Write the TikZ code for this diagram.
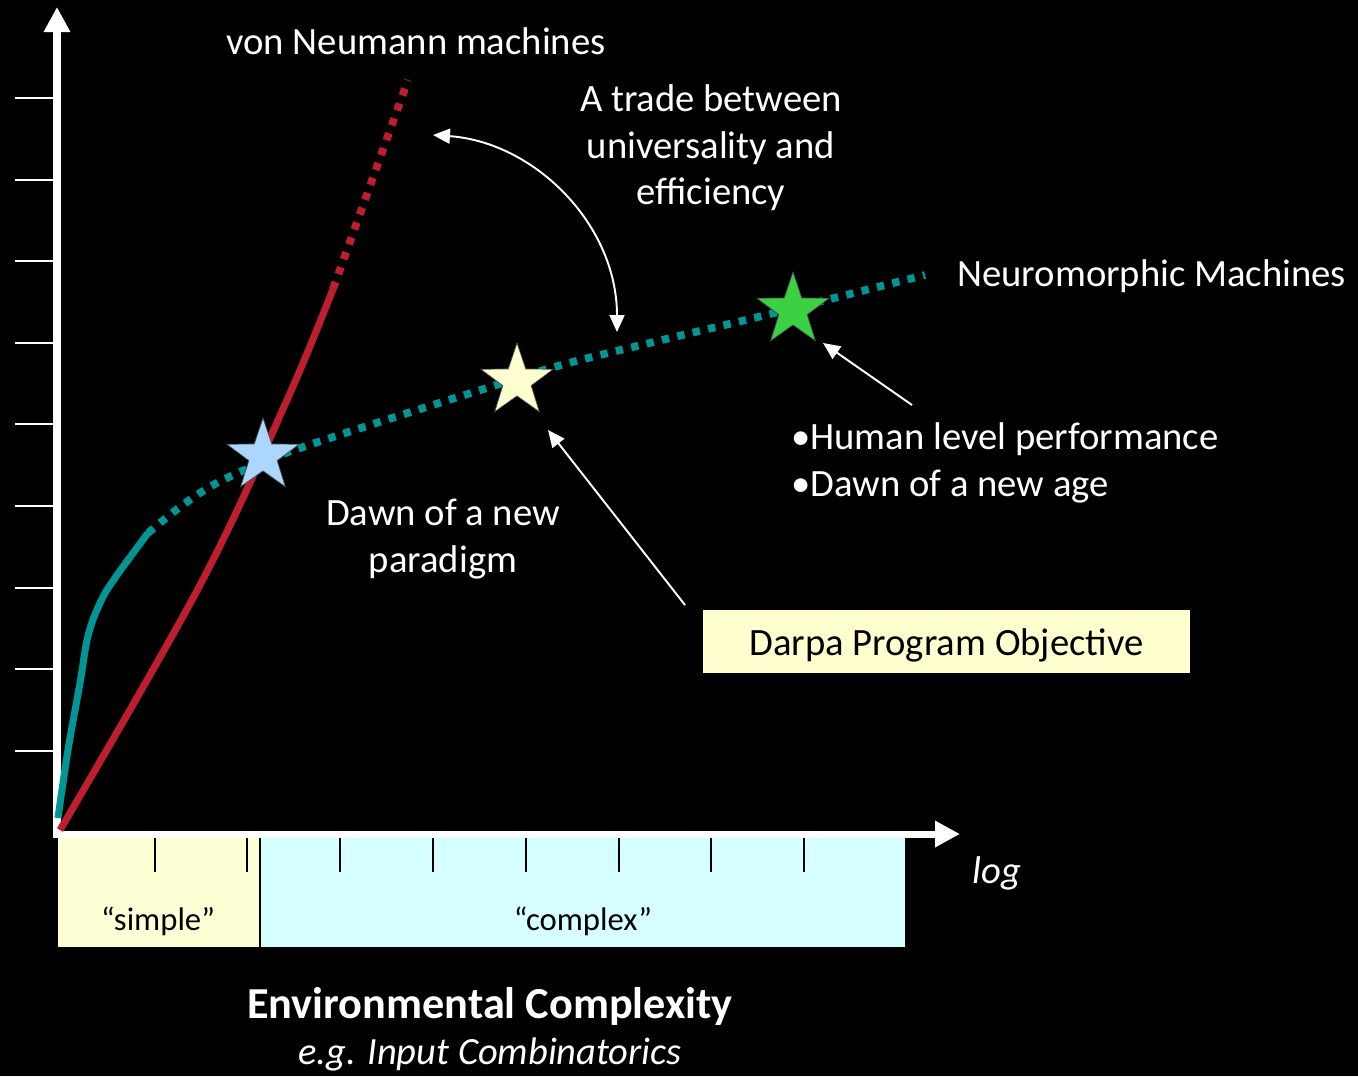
\documentclass[tikz,border=0pt]{standalone}
\usepackage{fontspec}
\setmainfont{Carlito}
\usetikzlibrary{arrows.meta,shapes.geometric}

\definecolor{vnred}{RGB}{190,30,45}
\definecolor{nmteal}{RGB}{0,150,150}
\definecolor{starblue}{RGB}{170,214,255}
\definecolor{staryellow}{RGB}{255,255,208}
\definecolor{stargreen}{RGB}{58,210,66}
\definecolor{simplebg}{RGB}{255,255,214}
\definecolor{complexbg}{RGB}{214,255,255}
\definecolor{darpabg}{RGB}{255,255,208}

\newcommand\labelsize{\fontsize{22pt}{26.4pt}\selectfont}
\newcommand\boxsize{\fontsize{18.6pt}{22pt}\selectfont}

\tikzset{
  axisline/.style={white, line width=4pt, -{Triangle[length=0.5cm,width=0.5cm]}},
  ytick/.style={white, line width=1.1pt},
  xtick/.style={black, line width=1.1pt},
  solidcurve/.style={line width=4pt},
  dotcurve/.style={line width=4.4pt, dash pattern=on 4.2pt off 4.8pt},
  pointer/.style={white, line width=1.1pt, -{Triangle[length=0.34cm,width=0.3cm]}},
  bothpointer/.style={white, line width=1.1pt, {Triangle[length=0.34cm,width=0.3cm]}-{Triangle[length=0.34cm,width=0.3cm]}},
  milestone/.style={star, star points=5, star point ratio=2.55, minimum size=1.52cm,
    inner sep=0pt, draw=black!70, line width=0.4pt},
  caption/.style={white, font=\labelsize, inner sep=0pt},
  rangelabel/.style={black, font=\boxsize, inner sep=0pt},
}

\begin{document}
\begin{tikzpicture}[x=0.02cm, y=-0.02cm]
  % canvas
  \fill[black] (0,0) rectangle (1358,1076);
  \useasboundingbox (0,0) rectangle (1358,1076);

  % complexity ranges under the x axis
  \node[fill=simplebg, inner sep=0pt, minimum width=4.02cm, minimum height=2.2cm, anchor=north west] (simplebox) at (58,837) {};
  \node[fill=complexbg, inner sep=0pt, minimum width=12.88cm, minimum height=2.2cm, anchor=north west] (complexbox) at (261,837) {};
  \draw[black, line width=1.2pt] (simplebox.north east) -- (simplebox.south east);
  \node[rangelabel, anchor=base] (simple) at (158,930) {“simple”};
  \node[rangelabel, anchor=base] (complex) at (583,930) {“complex”};

  % axes
  \coordinate (origin) at (57,834);
  \coordinate (ytop) at (57,7);
  \coordinate (xend) at (960,834);
  \foreach \ty in {98,180,261,343,424,506,588,669,751}
    \draw[ytick] (15,\ty) -- (53,\ty);
  \foreach \tx in {155,247,340,433,526,619,711,804}
    \draw[xtick] (\tx,836) -- (\tx,872);
  \draw[axisline] ([yshift=-2pt]origin) -- (ytop);
  \draw[axisline] ([xshift=-2pt]origin) -- (xend);
  \node[white, font=\fontsize{22pt}{24pt}\selectfont\itshape, inner sep=0pt] (logmark) at (997,873) {log};

  % von Neumann machines
  \draw[vnred, solidcurve] plot[smooth, tension=0.6] coordinates
    {(60,830) (200,585) (287,400) (333,289)};
  \draw[vnred, dotcurve] (333,289) -- (408,80);

  % neuromorphic machines
  \draw[nmteal, solidcurve] plot[smooth, tension=0.6] coordinates
    {(58,818) (68,750) (80,683) (88,636) (100,603) (115,578) (148,533)};
  \draw[nmteal, dotcurve] plot[smooth, tension=0.6] coordinates
    {(148,533) (180,507) (215,484) (263,462) (300,448) (392,418) (487,388) (565,364) (662,340) (758,317) (838,297) (925,275)};

  % milestones
  \node[milestone, fill=starblue] (bluestar) at (263,456) {};
  \node[milestone, fill=staryellow] (yellowstar) at (517,381) {};
  \node[milestone, fill=stargreen] (greenstar) at (793,310) {};

  % captions
  \node[caption, anchor=base] (vonneumann) at (416,54) {von Neumann machines};
  \node[caption, align=center] (tradeoff) at (711,148) {A trade between\\universality and\\efficiency};
  \node[caption, anchor=base west] (neuromorphic) at (957,286) {Neuromorphic Machines};
  \node[caption, align=center] (paradigm) at (443,539) {Dawn of a new\\paradigm};
  \node[caption, align=left, anchor=west] (humanlevel) at (791,463) {•Human level performance\\•Dawn of a new age};
  \node[fill=darpabg, inner sep=0pt, minimum width=9.74cm, minimum height=1.26cm] (darpa) at (946.5,641.5) {};
  \node[caption, text=black, anchor=base] (darpalabel) at (946.5,655) {Darpa Program Objective};

  % pointers
  \coordinate (tradeA) at (433,135);
  \coordinate (tradeB) at (617,332);
  \draw[bothpointer] (tradeA) .. controls (534,142) and (617,224) .. (tradeB);
  \coordinate (darpaTail) at (685,605);
  \coordinate (darpaTip) at (548,430);
  \draw[pointer] (darpaTail) -- (darpaTip);
  \coordinate (humanTail) at (912,405);
  \coordinate (humanTip) at (823,343);
  \draw[pointer] (humanTail) -- (humanTip);

  % axis title
  \node[white, font=\fontsize{25.2pt}{28pt}\selectfont\bfseries, inner sep=0pt, anchor=base] (envtitle) at (490,1018) {Environmental Complexity};
  \node[white, font=\fontsize{21.9pt}{24pt}\selectfont\itshape, inner sep=0pt, anchor=base] (envsub) at (490,1064) {e.g. Input Combinatorics};
\end{tikzpicture}
\end{document}
